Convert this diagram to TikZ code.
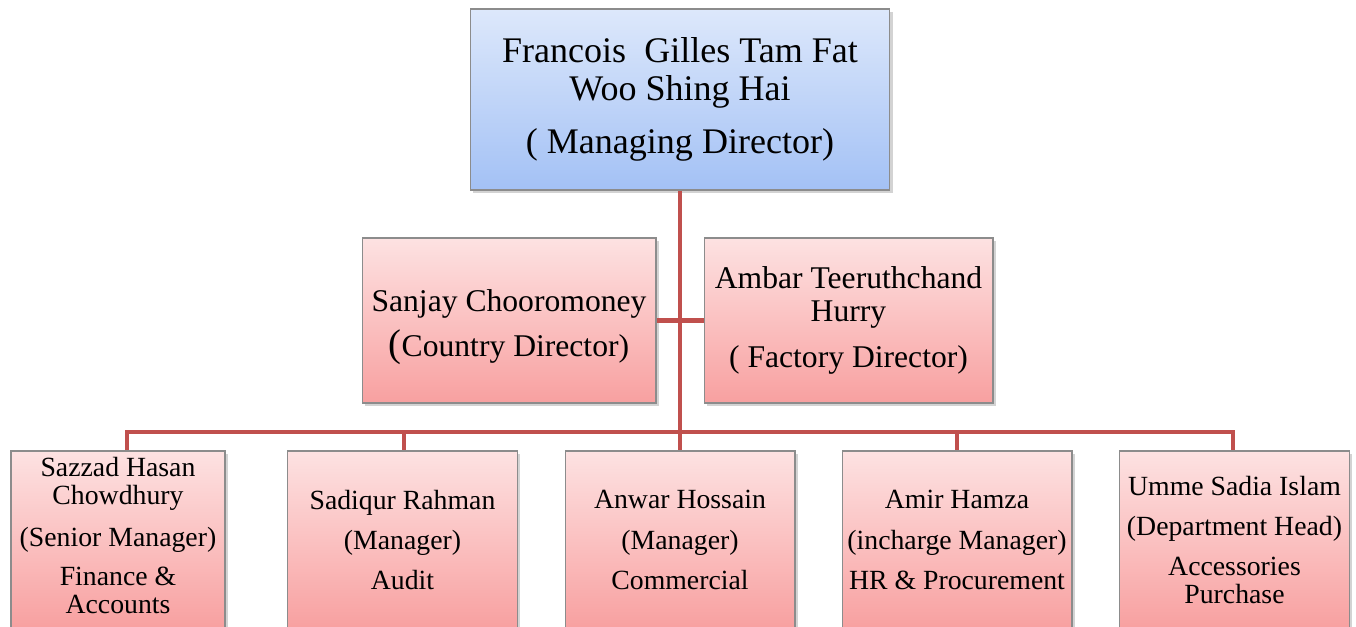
\documentclass[tikz,border=0pt]{standalone}
\usepackage{fontspec}
\setmainfont{Liberation Serif}
\usetikzlibrary{shadows}
\definecolor{linkred}{HTML}{C0504D}
\definecolor{bluetop}{HTML}{DDE8FB}
\definecolor{bluebot}{HTML}{A3C1F5}
\definecolor{pinktop}{HTML}{FDE2E2}
\definecolor{pinkbot}{HTML}{F8A0A0}
\tikzset{box/.style={draw=black!45, line width=.6pt, align=center, inner sep=0pt, drop shadow={opacity=.35, shadow xshift=1.5pt, shadow yshift=-1.5pt}}}
\tikzset{bluebox/.style={box, top color=bluetop, bottom color=bluebot, font=\fontsize{20.5}{21.5}\selectfont, minimum width=8.4cm, minimum height=3.62cm}}
\tikzset{pinkbox/.style={box, top color=pinktop, bottom color=pinkbot}}
\tikzset{midbox/.style={pinkbox, font=\fontsize{18}{18.7}\selectfont, minimum height=3.3cm}}
\tikzset{lowbox/.style={pinkbox, font=\fontsize{15.8}{15.9}\selectfont, minimum height=3.56cm, minimum width=4.6cm}}
\tikzset{link/.style={line width=2.8pt, linkred}}

\begin{document}
\begin{tikzpicture}[x=0.02cm, y=-0.02cm]
		\useasboundingbox (0,0) rectangle (1356,626);
		\clip (0,0) rectangle (1356,626);

		% Boxes
		\node[bluebox] (MD) at (680,99.5) {Francois~~Gilles Tam Fat\\ Woo Shing Hai\\[9pt] ( Managing Director)};
		\node[midbox, minimum width=5.88cm] (CD) at (509,320.5) {\rule{0pt}{20pt}Sanjay Chooromoney\\[5.5pt] {\fontsize{22}{22}\selectfont(}Country Director)};
		\node[midbox, minimum width=5.78cm] (FD) at (848.5,320.5) {Ambar Teeruthchand\\ Hurry\\[8pt] ( Factory Director)};
		%% Departments
		\node[lowbox, minimum width=4.28cm] (SM) at (118,540) {Sazzad Hasan\\ Chowdhury\\[8pt] (Senior Manager)\\[6.5pt] Finance \&\\ Accounts\rule[-5pt]{0pt}{5pt}};
		\node[lowbox] (AU) at (402.5,540) {Sadiqur Rahman\\[7pt] (Manager)\\[7pt] Audit};
		\node[lowbox] (CO) at (680,540) {Anwar Hossain\\[7pt] (Manager)\\[7pt] Commercial};
		\node[lowbox] (HR) at (957,540) {Amir Hamza\\[7pt] (incharge Manager)\\[7pt] HR \& Procurement};
		\node[lowbox] (AC) at (1234.5,540) {Umme Sadia Islam\\[7pt] (Department Head)\\[7pt] Accessories\\ Purchase};

		% Coordinates
		\coordinate (B1) at (127,432);
		\coordinate (B2) at (404,432);
		\coordinate (B3) at (680,432);
		\coordinate (B4) at (957,432);
		\coordinate (B5) at (1233,432);

		% Links
		\draw[link] (MD.south) -- (B3);
		\draw[link] (CD.east) -- (FD.west);
		\draw[link] (SM.north -| B1) -- (B1) -- (B5) -- (B5 |- AC.north);
		\draw[link] (B2) -- (AU.north -| B2);
		\draw[link] (B3) -- (CO.north);
		\draw[link] (B4) -- (HR.north);
	\end{tikzpicture}
\end{document}
